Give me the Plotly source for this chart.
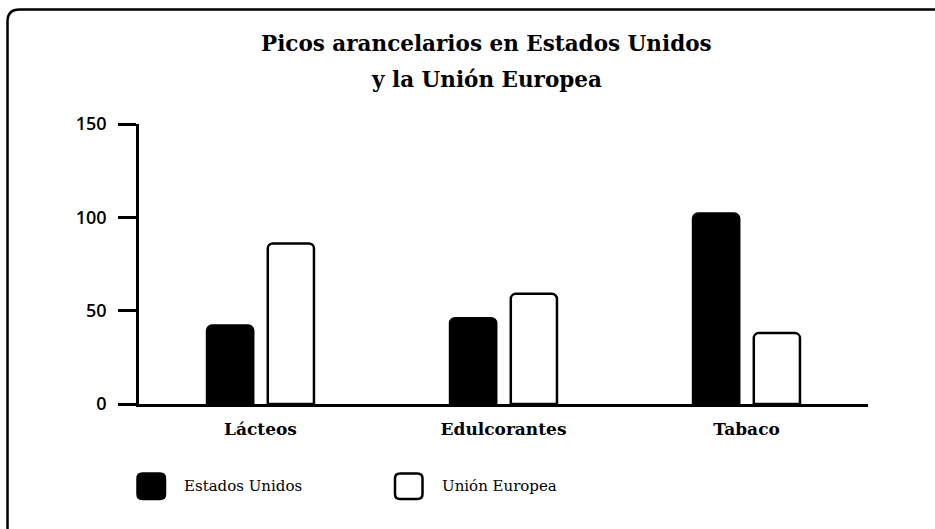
import plotly.graph_objects as go

categories = ["Lácteos", "Edulcorantes", "Tabaco"]
estados_unidos = [42, 46, 102]
union_europea = [86, 59, 38]
series_names = ["Estados Unidos", "Unión Europea"]
y_ticks = [0, 50, 100, 150]
title_lines = ["Picos arancelarios en Estados Unidos", "y la Unión Europea"]

W, H = 935, 529
L, R, T, B = 139, 67, 124, 125
PW, PH = W - L - R, H - T - B


def px2paper(x, y):
    return (x - L) / PW, (H - B - y) / PH


def rrect(x0, y0, x1, y1, r):
    def p(x, y):
        a, b = px2paper(x, y)
        return f"{a:.5f},{b:.5f}"
    return (f"M{p(x0 + r, y0)} L{p(x1 - r, y0)} Q{p(x1, y0)} {p(x1, y0 + r)} "
            f"L{p(x1, y1 - r)} Q{p(x1, y1)} {p(x1 - r, y1)} "
            f"L{p(x0 + r, y1)} Q{p(x0, y1)} {p(x0, y1 - r)} "
            f"L{p(x0, y0 + r)} Q{p(x0, y0)} {p(x0 + r, y0)} Z")


fig = go.Figure()
fig.add_trace(go.Bar(x=categories, y=estados_unidos, name=series_names[0],
                     marker=dict(color="black", line=dict(color="black", width=2.5),
                                 cornerradius=5)))
fig.add_trace(go.Bar(x=categories, y=union_europea, name=series_names[1],
                     marker=dict(color="white", line=dict(color="black", width=2.5),
                                 cornerradius=5)))

serif_bold = dict(family="DejaVu Serif", color="black", weight="bold")

fig.update_layout(
    width=W, height=H,
    margin=dict(l=L, r=R, t=T, b=B, autoexpand=False),
    paper_bgcolor="white", plot_bgcolor="white",
    barmode="group", bargap=0.5, bargroupgap=0.24,
    showlegend=False,
    xaxis=dict(type="category", showline=True, linecolor="black", linewidth=2.5,
               ticks="", showgrid=False, zeroline=False,
               tickfont=dict(size=17, **serif_bold), ticklabelstandoff=8),
    yaxis=dict(range=[0, 150], tickvals=y_ticks, showline=True, linecolor="black",
               linewidth=2.5, ticks="outside", ticklen=18, tickwidth=2.5,
               tickcolor="black", showgrid=False, zeroline=False,
               tickfont=dict(family="Open Sans", size=18, color="black", weight=600),
               ticklabelstandoff=8),
)

# title
for line, ypx in zip(title_lines, [44, 80]):
    fig.add_annotation(x=px2paper(486, 0)[0], y=px2paper(0, ypx)[1], xref="paper", yref="paper",
                       text=line, showarrow=False, xanchor="center", yanchor="middle",
                       font=dict(size=21.5, **serif_bold))

# border
fig.add_shape(type="path", xref="paper", yref="paper",
              path=rrect(7.5, 9.5, 960, 560, 12),
              line=dict(color="black", width=2.5), fillcolor="rgba(0,0,0,0)", layer="above")

# legend
legend_items = [(137.5, "black", 182), (395, "white", 440)]
for (mx, fill, tx), name in zip(legend_items, series_names):
    fig.add_shape(type="path", xref="paper", yref="paper",
                  path=rrect(mx, 473.5, mx + 27.5, 499, 5),
                  line=dict(color="black", width=2.5), fillcolor=fill)
    fig.add_annotation(x=px2paper(tx, 0)[0], y=px2paper(0, 486)[1], xref="paper", yref="paper",
                       text=name, showarrow=False, xanchor="left", yanchor="middle",
                       font=dict(family="DejaVu Serif", size=15, color="black"))

fig.write_html("out.html", config={"displayModeBar": False},
               post_script="document.body.style.margin='0';")
